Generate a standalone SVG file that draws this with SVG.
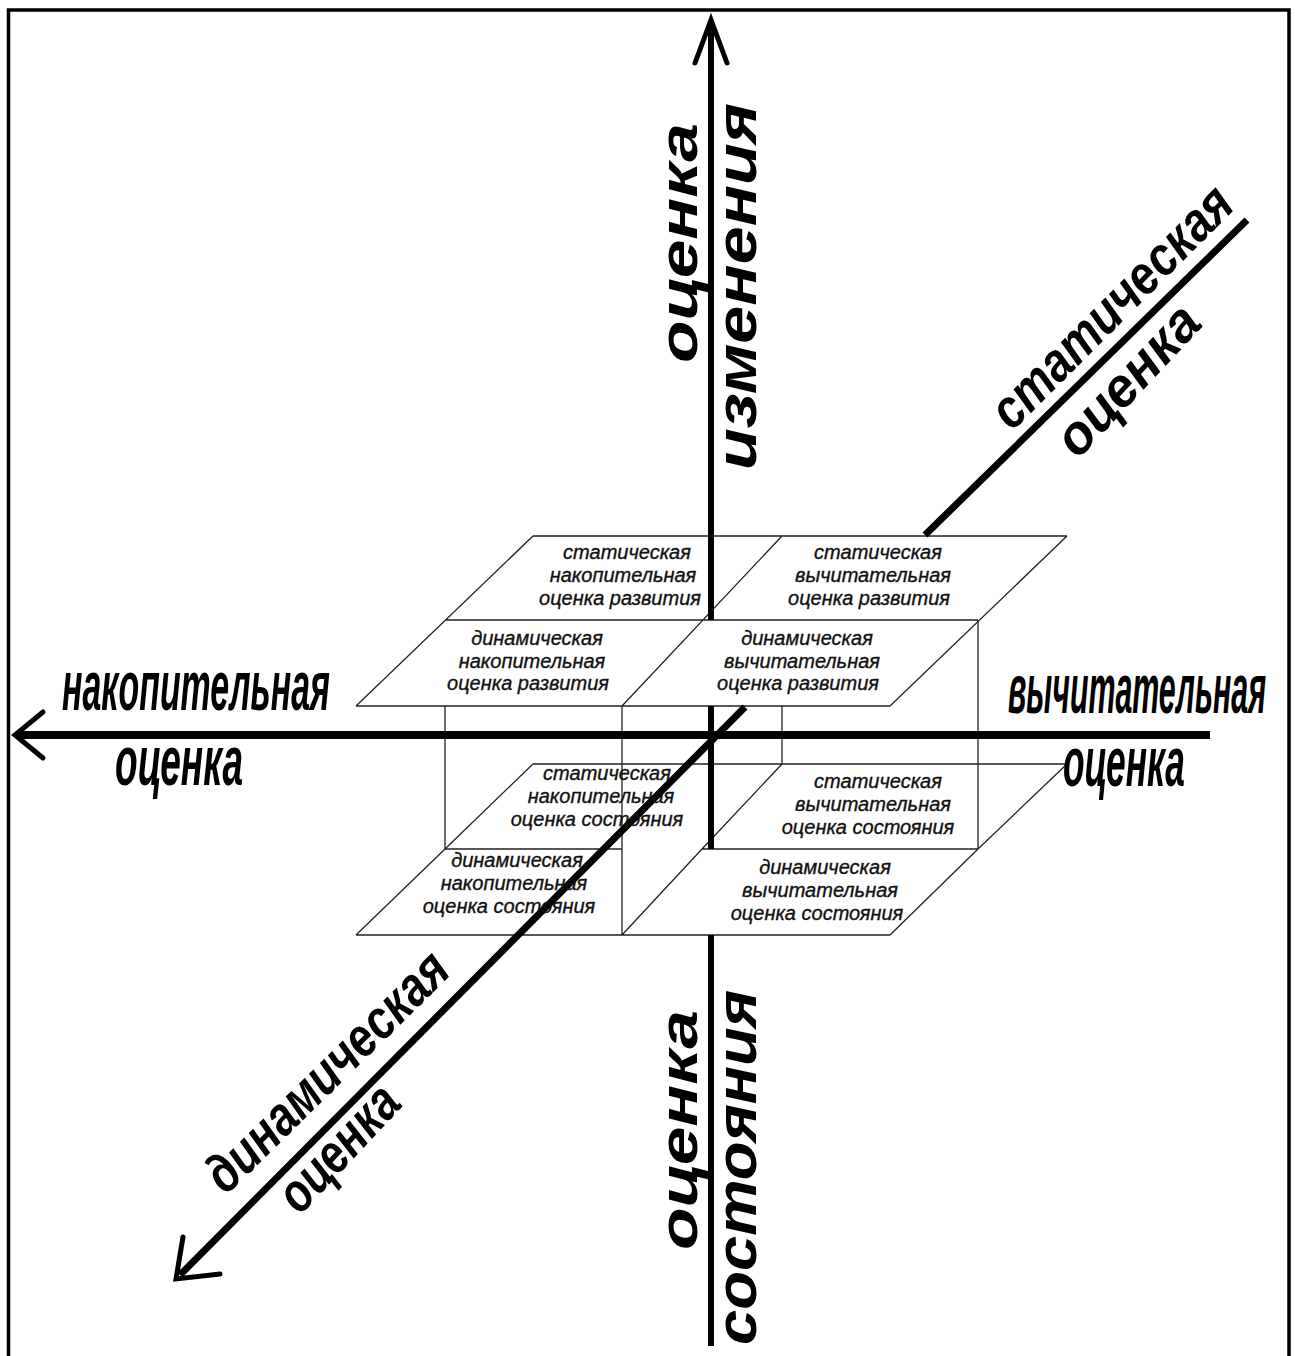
<svg xmlns="http://www.w3.org/2000/svg" width="1295" height="1356" viewBox="0 0 1295 1356">
<style>
.thin{fill:none;stroke:#222;stroke-width:1.3}
.ax{fill:none;stroke:#000;stroke-linecap:butt}
.ah{fill:none;stroke:#000;stroke-width:5;stroke-linecap:round;stroke-linejoin:miter}
.q{font-family:"Liberation Sans",Arial,sans-serif;font-style:italic;font-size:20px;fill:#111;stroke:#111;stroke-width:0.35;text-anchor:middle}
.lab{font-family:"Liberation Sans",Arial,sans-serif;font-style:italic;font-weight:bold;fill:#000}
</style>
<rect width="1295" height="1356" fill="#fff"/>
<path d="M8.5 1356 V10 H1289 V1356" fill="none" stroke="#000" stroke-width="3.5"/>

<g id="planes">
<path class="thin" d="M533 536 H1067 M445 620 H978 M356 706 H890 M533 536 L356 706 M782 536 L622 706 M1067 536 L890 706"/>
<path class="thin" d="M533 764 H1067 M445 849 H622 M702 849 H978 M356 935 H890 M533 764 L445 849 L356 935 M782 764 L702 849 L622 935 M1067 764 L978 849 L890 935"/>
<path class="thin" d="M445 706 V849 M622 706 V935 M782 706 V764 M978 620 V849"/>
</g>

<g id="connectors">
<path class="ax" stroke-width="6" d="M711 22 V620 M711 706 V849 M711 935 V1346"/>
<polyline class="ah" points="695,63 711,20 727,63"/>
<path class="ax" stroke-width="8" d="M18 735 H1210"/>
<polyline class="ah" points="43,712 15,735 43,758"/>
<path class="ax" stroke-width="7" d="M1247 220 L925 535 M745 707 L180 1275"/>
<polyline class="ah" points="183,1237 176,1279 220,1274"/>
</g>

<g id="q1"><text class="q"><tspan x="627" y="559">статическая</tspan><tspan x="623" y="582">накопительная</tspan><tspan x="620" y="605">оценка развития</tspan></text></g>
<g id="q2"><text class="q"><tspan x="878" y="559">статическая</tspan><tspan x="873" y="582">вычитательная</tspan><tspan x="869" y="605">оценка развития</tspan></text></g>
<g id="q3"><text class="q"><tspan x="537" y="645">динамическая</tspan><tspan x="532" y="668">накопительная</tspan><tspan x="528" y="690">оценка развития</tspan></text></g>
<g id="q4"><text class="q"><tspan x="807" y="645">динамическая</tspan><tspan x="802" y="668">вычитательная</tspan><tspan x="798" y="690">оценка развития</tspan></text></g>
<g id="q5"><text class="q"><tspan x="607" y="780">статическая</tspan><tspan x="601" y="803">накопительная</tspan><tspan x="597" y="826">оценка состояния</tspan></text></g>
<g id="q6"><text class="q"><tspan x="878" y="788">статическая</tspan><tspan x="873" y="811">вычитательная</tspan><tspan x="868" y="834">оценка состояния</tspan></text></g>
<g id="q7"><text class="q"><tspan x="517" y="867">динамическая</tspan><tspan x="514" y="890">накопительная</tspan><tspan x="509" y="913">оценка состояния</tspan></text></g>
<g id="q8"><text class="q"><tspan x="825" y="874">динамическая</tspan><tspan x="820" y="897">вычитательная</tspan><tspan x="817" y="920">оценка состояния</tspan></text></g>

<g id="axis-labels">
<text class="lab" x="62" y="710" font-size="70" textLength="268" lengthAdjust="spacingAndGlyphs">накопительная</text>
<text class="lab" x="115" y="785" font-size="70" textLength="128" lengthAdjust="spacingAndGlyphs">оценка</text>
<text class="lab" x="1008" y="713" font-size="70" textLength="258" lengthAdjust="spacingAndGlyphs">вычитательная</text>
<text class="lab" x="1063" y="786" font-size="70" textLength="122" lengthAdjust="spacingAndGlyphs">оценка</text>
<text class="lab" font-size="54" textLength="240" lengthAdjust="spacingAndGlyphs" transform="translate(697,363) rotate(-90)">оценка</text>
<text class="lab" font-size="58" textLength="367" lengthAdjust="spacingAndGlyphs" transform="translate(756,470) rotate(-90)">изменения</text>
<text class="lab" font-size="54" textLength="240" lengthAdjust="spacingAndGlyphs" transform="translate(697,1250) rotate(-90)">оценка</text>
<text class="lab" font-size="58" textLength="355" lengthAdjust="spacingAndGlyphs" transform="translate(756,1345) rotate(-90)">состояния</text>
<text class="lab" font-size="55" textLength="318" lengthAdjust="spacingAndGlyphs" transform="translate(1012,432) rotate(-45)">статическая</text>
<text class="lab" font-size="55" textLength="185" lengthAdjust="spacingAndGlyphs" transform="translate(1078,460) rotate(-47)">оценка</text>
<text class="lab" font-size="55" textLength="318" lengthAdjust="spacingAndGlyphs" transform="translate(226,1196) rotate(-44.5)">динамическая</text>
<text class="lab" font-size="55" textLength="152" lengthAdjust="spacingAndGlyphs" transform="translate(300,1216) rotate(-47)">оценка</text>
</g>
</svg>
